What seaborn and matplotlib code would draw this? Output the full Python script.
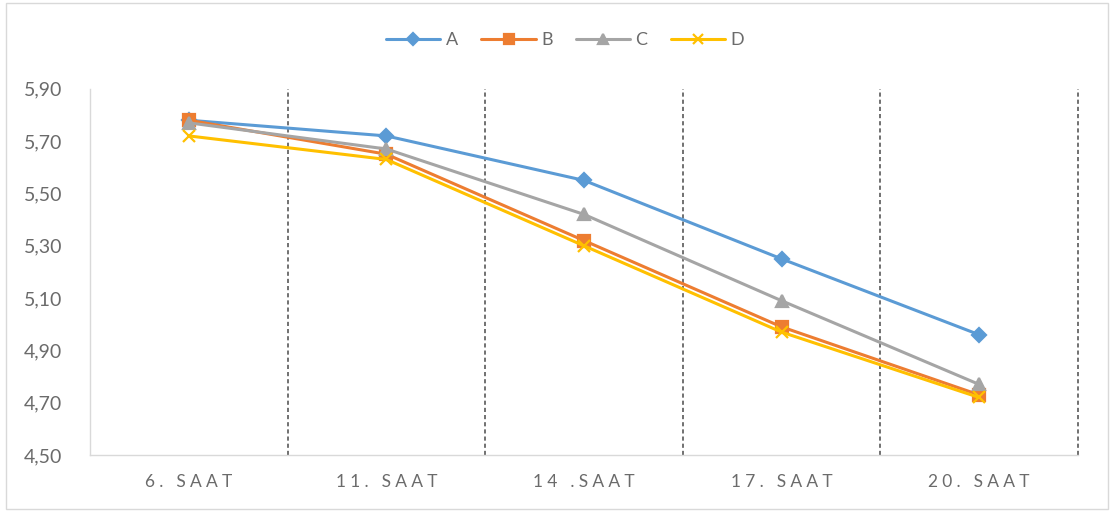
import numpy as np
import pandas as pd
import matplotlib
matplotlib.use("Agg")
import matplotlib.pyplot as plt
import seaborn as sns
from matplotlib.patches import Rectangle

# Measurement hours and the four series
hours = ["6. SAAT", "11. SAAT", "14 .SAAT", "17. SAAT", "20. SAAT"]
series_a = [5.78, 5.72, 5.55, 5.25, 4.96]
series_b = [5.78, 5.65, 5.32, 4.99, 4.73]
series_c = [5.77, 5.67, 5.42, 5.09, 4.77]
series_d = [5.72, 5.63, 5.30, 4.97, 4.72]
series_names = ["A", "B", "C", "D"]
y_ticks = [4.50, 4.70, 4.90, 5.10, 5.30, 5.50, 5.70, 5.90]

palette = {"A": "#5B9BD5", "B": "#ED7D31", "C": "#A5A5A5", "D": "#FFC000"}
markers = {"A": "D", "B": "s", "C": "^", "D": "x"}
msizes = {"A": 7, "B": 8, "C": 8, "D": 8}

rows = []
for name, vals in zip(series_names, [series_a, series_b, series_c, series_d]):
    for h, v in zip(hours, vals):
        rows.append({"saat": h, "deger": v, "seri": name})
df = pd.DataFrame(rows)

sns.set_theme(style="white")
plt.rcParams["font.family"] = ["Lato", "DejaVu Sans"]

fig = plt.figure(figsize=(11.15, 5.15), dpi=100)
ax = fig.add_axes([0.0807, 0.1165, 0.886, 0.711])

for name in series_names:
    sub = df[df["seri"] == name]
    sns.lineplot(data=sub, x="saat", y="deger", color=palette[name],
                 marker=markers[name], sort=False, linewidth=2.2,
                 markersize=msizes[name], markeredgewidth=1.6,
                 markeredgecolor=palette[name], label=name, ax=ax, zorder=3)

# Category separators
for xv in np.arange(0.5, len(hours), 1.0):
    ax.axvline(xv, color="#595959", linestyle=(0, (2.5, 1.8)), linewidth=1.2,
               zorder=0, clip_on=False)

ax.set_xlim(-0.5, len(hours) - 0.5)
ax.set_ylim(4.50, 5.90)
ax.set_yticks(y_ticks)
ax.set_yticklabels([f"{t:.2f}".replace(".", ",") for t in y_ticks], fontsize=14)

# letter-spaced category labels
spaced = ["\u2009\u2009".join(h) for h in hours]
ax.set_xticks(range(len(hours)))
ax.set_xticklabels(spaced, fontsize=12.5)
ax.tick_params(axis="both", length=0, colors="#6B6B6B")
ax.tick_params(axis="x", pad=14)
ax.tick_params(axis="y", pad=20)
ax.set_xlabel("")
ax.set_ylabel("")

for side in ["top", "right"]:
    ax.spines[side].set_visible(False)
for side in ["left", "bottom"]:
    ax.spines[side].set_color("#D9D9D9")
    ax.spines[side].set_linewidth(1.0)

handles, labels = ax.get_legend_handles_labels()
ax.legend_.remove()
fig.legend(handles, labels, loc="center", bbox_to_anchor=(0.507, 0.922), ncol=4,
           frameon=False, fontsize=13, handlelength=3.0, handletextpad=0.3,
           columnspacing=1.3, markerscale=0.85, labelcolor="#6B6B6B")

# Chart border
fig.patches.append(Rectangle((0.005, 0.012), 0.989, 0.982, transform=fig.transFigure,
                             fill=False, edgecolor="#D9D9D9", linewidth=1.0))

fig.savefig("out.png", dpi=100, facecolor="white")
